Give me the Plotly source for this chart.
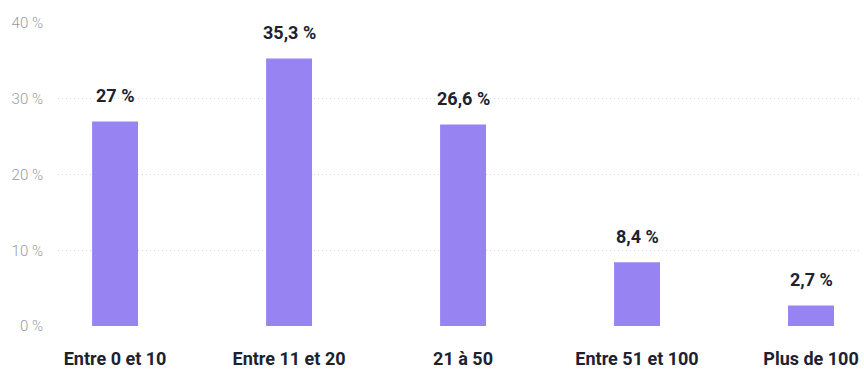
import plotly.graph_objects as go

categories = ["Entre 0 et 10", "Entre 11 et 20", "21 à 50", "Entre 51 et 100", "Plus de 100"]
values = [27, 35.3, 26.6, 8.4, 2.7]
y_ticks = [0, 10, 20, 30, 40]

def fmt(v):
    s = ("%g" % v).replace(".", ",")
    return s + " %"

fig = go.Figure()
fig.add_trace(go.Bar(
    x=categories, y=values, width=0.264,
    marker=dict(color="#9784F2", line=dict(width=0)),
    hoverinfo="skip",
))
for c, v in zip(categories, values):
    fig.add_annotation(x=c, y=v, text=fmt(v), showarrow=False, yshift=26,
                       font=dict(family="Roboto", size=18, color="#1c2230", weight="bold"))

fig.update_layout(
    width=864, height=369,
    margin=dict(l=58, r=2, t=23, b=43),
    paper_bgcolor="white", plot_bgcolor="white",
    showlegend=False,
    separators=", ",
    font=dict(family="Roboto"),
    xaxis=dict(range=[-0.328, 4.293], showgrid=False, zeroline=False, showline=False,
               ticks="", ticklabelstandoff=20, automargin=False,
               tickfont=dict(family="Roboto", size=18, color="#1c2230", weight="bold")),
    yaxis=dict(range=[0, 40], tickvals=y_ticks, ticktext=[f"{t} %" for t in y_ticks],
               showgrid=True, gridcolor="#d2d6da", griddash="1px,3px", gridwidth=1,
               zeroline=False, showline=False, ticks="", ticklabelstandoff=14,
               automargin=False,
               tickfont=dict(family="Roboto", size=15, color="#959ca4", weight=300)),
)
# remove the browser's default 8px body margin so the figure fills the window exactly
fig.write_html("out.html", config={"displayModeBar": False},
               post_script="document.body.style.margin='0';document.body.style.overflow='hidden';")
